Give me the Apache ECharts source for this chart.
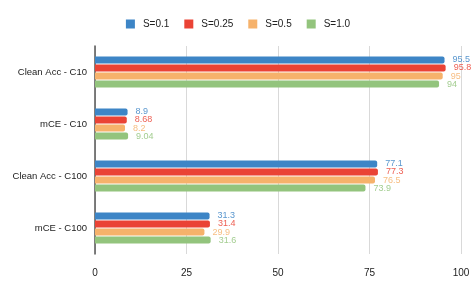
<!DOCTYPE html>
<html><head><meta charset="utf-8">
<script src="https://cdn.jsdelivr.net/npm/echarts@6/dist/echarts.min.js"></script>
<style>html,body{margin:0;padding:0;background:#fff}#c{width:476px;height:294px}</style>
</head><body><div id="c"></div>
<script>
const categories = ["Clean Acc - C10", "mCE - C10", "Clean Acc - C100", "mCE - C100"];
const seriesNames = ["S=0.1", "S=0.25", "S=0.5", "S=1.0"];
const s01 = [95.5, 8.9, 77.1, 31.3];
const s025 = [95.8, 8.68, 77.3, 31.4];
const s05 = [95, 8.2, 76.5, 29.9];
const s10 = [94, 9.04, 73.9, 31.6];
const xTicks = [0, 25, 50, 75, 100];
const colors = ["#3d85c6", "#ea4335", "#f6b26b", "#93c47d"];
const values = [s01, s025, s05, s10];

const chart = echarts.init(document.getElementById('c'), null, {renderer: 'canvas'});
chart.setOption({
  animation: false,
  color: colors,
  textStyle: {fontFamily: 'Liberation Sans, Arial, sans-serif'},
  legend: {
    top: 14, left: 'center', itemWidth: 9, itemHeight: 9, itemGap: 15,
    icon: 'rect',
    textStyle: {fontSize: 10, color: '#222', padding: [0, 0, 0, 3]},
    data: seriesNames
  },
  grid: {left: 95, right: 15, top: 46, bottom: 40, containLabel: false},
  xAxis: {
    type: 'value', min: xTicks[0], max: xTicks[xTicks.length - 1], interval: 25,
    axisLine: {show: false}, axisTick: {show: false},
    splitLine: {lineStyle: {color: '#d9d9d9', width: 1}},
    axisLabel: {color: '#222', fontSize: 10, margin: 14}
  },
  yAxis: {
    type: 'category', data: categories, inverse: true,
    axisLine: {lineStyle: {color: '#555', width: 1.5}},
    axisTick: {show: false},
    axisLabel: {color: '#222', fontSize: 9.5, margin: 8}
  },
  series: seriesNames.map((n, i) => ({
    name: n, type: 'bar', data: values[i],
    barWidth: 7, barGap: '15%',
    itemStyle: {color: colors[i], borderRadius: [0, 2, 2, 0]},
    label: {show: true, position: 'right', distance: 8, fontSize: 9, color: colors[i], opacity: 0.85}
  }))
});
</script></body></html>
